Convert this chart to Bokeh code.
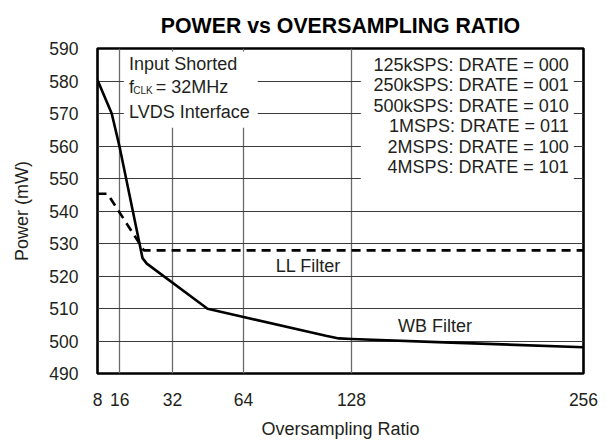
import numpy as np
from bokeh.plotting import figure
from bokeh.models import Range1d, FixedTicker, Label, BoxAnnotation
from bokeh.embed import file_html
from bokeh.resources import INLINE

# ---------------- data ----------------
osr_ticks = [8, 16, 32, 64, 128, 256]
power_ticks = [490, 500, 510, 520, 530, 540, 550, 560, 570, 580, 590]

wb_osr = [8, 13.1, 15.8, 22.9, 24.2, 47.8, 64, 112.8, 120.5, 128, 183, 256]
wb_power = [580.3, 570.0, 560.2, 525.5, 523.8, 509.9, 507.4, 501.6, 500.8, 500.6, 499.5, 498.1]

ll_osr = [8, 11.6, 23.3, 256]
ll_power = [545.3, 545.3, 527.9, 527.9]

notes_left = ["Input Shorted", "LVDS Interface"]
drate_notes = ["125kSPS: DRATE = 000", "250kSPS: DRATE = 001", "500kSPS: DRATE = 010",
               "1MSPS: DRATE = 011", "2MSPS: DRATE = 100", "4MSPS: DRATE = 101"]

# -------------- layout (non-uniform OSR axis of the original) --------------
tick_pos = [0.0, 22.3, 75.0, 146.0, 254.0, 486.0]


def xpos(v):
    return [float(t) for t in np.interp(v, osr_ticks, tick_pos)]


FONT = "Liberation Sans"
TXT = "#231f20"
DY = 1.8  # text baseline correction (mW units)

p = figure(width=612, height=443, output_backend="svg", toolbar_location=None,
           x_range=Range1d(0, 486), y_range=Range1d(490, 590),
           min_border_left=97, min_border_right=29, min_border_top=45, min_border_bottom=70)
p.background_fill_color = "white"
p.border_fill_color = "white"
p.outline_line_color = "black"
p.outline_line_width = 2.6

p.title.text = "POWER vs OVERSAMPLING RATIO"
p.title.align = "center"
p.title.text_font = FONT
p.title.text_font_style = "bold"
p.title.text_font_size = "21.3px"
p.title.text_color = "black"
p.title.standoff = 22

# axes
xt = xpos(osr_ticks)
p.xaxis.ticker = FixedTicker(ticks=xt)
p.xaxis.major_label_overrides = {t: str(v) for t, v in zip(xt, osr_ticks)}
p.yaxis.ticker = FixedTicker(ticks=power_ticks)
for ax in (p.xaxis, p.yaxis):
    ax.axis_line_color = None
    ax.major_tick_line_color = None
    ax.minor_tick_line_color = None
    ax.major_label_text_font = FONT
    ax.major_label_text_font_size = "17.5px"
    ax.major_label_text_color = TXT
    ax.axis_label_text_font = FONT
    ax.axis_label_text_font_size = "18px"
    ax.axis_label_text_font_style = "normal"
    ax.axis_label_text_color = TXT
p.xaxis.major_label_standoff = 13
p.yaxis.major_label_standoff = 13
p.xaxis.axis_label = "Oversampling Ratio"
p.xaxis.axis_label_standoff = 10
p.yaxis.axis_label = "Power (mW)"
p.yaxis.axis_label_standoff = 14

# grids
p.xgrid.ticker = FixedTicker(ticks=xpos(osr_ticks[1:-1]))
p.xgrid.grid_line_color = "#6a6a6a"
p.xgrid.grid_line_width = 1.3
p.ygrid.ticker = FixedTicker(ticks=power_ticks[1:-1])
p.ygrid.grid_line_color = "#3c3c3c"
p.ygrid.grid_line_width = 1.0

# curves
p.line(xpos(wb_osr), wb_power, line_color="black", line_width=2.6, line_join="round")
p.line(xpos(ll_osr), ll_power, line_color="black", line_width=2.6, line_dash="9 6")

# white boxes behind the notes
p.add_layout(BoxAnnotation(left=26.3, right=160.3, top=589.1, bottom=565.6,
                           fill_color="white", fill_alpha=1.0, line_color=None))
p.add_layout(BoxAnnotation(left=263.3, right=476.3, top=589.4, bottom=548.6,
                           fill_color="white", fill_alpha=1.0, line_color=None))


def lab(x, y, text, size="18px", align="left", **kw):
    p.add_layout(Label(x=x, y=y + DY, text=text, text_font=FONT, text_font_size=size,
                       text_color=TXT, text_align=align, text_baseline="alphabetic", **kw))


# left notes
lab(31.6, 583.4, notes_left[0])
lab(31.6, 576.3, "f")
lab(35.8, 575.3, "CLK", size="10px")
lab(58.3, 576.3, "= 32MHz")
lab(31.6, 568.7, notes_left[1])

# right notes
for i, t in enumerate(drate_notes):
    lab(471.3, 583.2 - 6.32 * i, t, align="right")

# curve labels
lab(178.3, 521.4, "LL Filter")
lab(300.6, 502.9, "WB Filter")

open("out.html", "w").write(file_html(p, INLINE))
